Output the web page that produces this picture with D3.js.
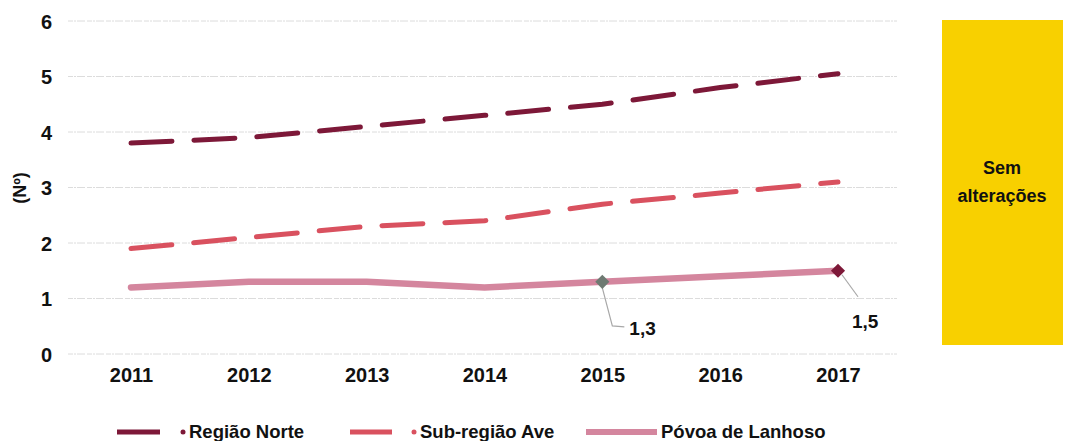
<!DOCTYPE html>
<html>
<head>
<meta charset="utf-8">
<script src="https://cdn.jsdelivr.net/npm/d3@7"></script>
<style>
  html, body { margin: 0; padding: 0; background: #fff; }
  svg { display: block; font-family: "Liberation Sans", Arial, sans-serif; }
</style>
</head>
<body>
<svg id="chart" width="1068" height="441"></svg>
<script>
// Anos e séries (número médio)
const years = [2011, 2012, 2013, 2014, 2015, 2016, 2017];
const regiaoNorte = [3.8, 3.9, 4.1, 4.3, 4.5, 4.8, 5.05];
const subRegiaoAve = [1.9, 2.1, 2.3, 2.4, 2.7, 2.9, 3.1];
const povoaLanhoso = [1.2, 1.3, 1.3, 1.2, 1.3, 1.4, 1.5];
const yTicks = [0, 1, 2, 3, 4, 5, 6];
const seriesNames = ["Região Norte", "Sub-região Ave", "Póvoa de Lanhoso"];
const labelled = [{ year: 2015, text: "1,3" }, { year: 2017, text: "1,5" }];
const boxLines = ["Sem", "alterações"];

const svg = d3.select("#chart");

const x = d3.scalePoint().domain(years).range([131, 838]);
const y = d3.scaleLinear().domain([0, 6]).range([354, 21]);

// Grelha horizontal
svg.append("g")
  .selectAll("line")
  .data(yTicks)
  .join("line")
  .attr("x1", 68).attr("x2", 897)
  .attr("y1", d => y(d)).attr("y2", d => y(d))
  .attr("stroke", "#dcdcdc")
  .attr("stroke-width", 1)
  .attr("stroke-dasharray", "5 1 2 1 8 2");

// Eixo Y
const yAxis = d3.axisLeft(y).tickValues(yTicks).tickSize(0).tickPadding(0).tickFormat(d3.format("d"));
const gy = svg.append("g").attr("transform", "translate(52,0)").call(yAxis);
gy.select(".domain").remove();
gy.selectAll("text")
  .attr("font-size", 20).attr("font-weight", "bold").attr("fill", "#111")
  .attr("dy", "0.35em");

// Eixo X
const xAxis = d3.axisBottom(x).tickSize(0).tickPadding(0).tickFormat(d3.format("d"));
const gx = svg.append("g").attr("transform", "translate(0,368)").call(xAxis);
gx.select(".domain").remove();
gx.selectAll("text")
  .attr("font-size", 20).attr("font-weight", "bold").attr("fill", "#111")
  .attr("dy", "0.7em");

// Título do eixo Y
svg.append("text")
  .attr("transform", "translate(26,188) rotate(-90)")
  .attr("text-anchor", "middle")
  .attr("font-size", 18).attr("font-weight", "bold").attr("fill", "#111")
  .text("(Nº)");

const line = d3.line().x((d, i) => x(years[i])).y(d => y(d));

// Região Norte
svg.append("path")
  .datum(regiaoNorte)
  .attr("d", line)
  .attr("fill", "none")
  .attr("stroke", "#7d1838")
  .attr("stroke-width", 5)
  .attr("stroke-linecap", "round")
  .attr("stroke-dasharray", "41 22");

// Sub-região Ave
svg.append("path")
  .datum(subRegiaoAve)
  .attr("d", line)
  .attr("fill", "none")
  .attr("stroke", "#d9515f")
  .attr("stroke-width", 5)
  .attr("stroke-linecap", "round")
  .attr("stroke-dasharray", "41 22");

// Póvoa de Lanhoso
svg.append("path")
  .datum(povoaLanhoso)
  .attr("d", line)
  .attr("fill", "none")
  .attr("stroke", "#d4869e")
  .attr("stroke-width", 6.5)
  .attr("stroke-linecap", "round")
  .attr("stroke-linejoin", "round");

// Marcadores e rótulos de valor
const markerColor = { 2015: "#6e7a72", 2017: "#7d1838" };
const leaderPaths = {
  2015: [[0, 6], [10, 44], [22, 45]],
  2017: [[4, 4], [20, 26]]
};
const labelOffsets = { 2015: [27, 53], 2017: [14, 57] };

labelled.forEach(l => {
  const i = years.indexOf(l.year);
  const cx = x(l.year), cy = y(povoaLanhoso[i]);
  svg.append("path")
    .attr("d", d3.line()(leaderPaths[l.year].map(p => [cx + p[0], cy + p[1]])))
    .attr("fill", "none").attr("stroke", "#a8a8a8").attr("stroke-width", 1.2);
  svg.append("path")
    .attr("transform", `translate(${cx},${cy}) rotate(45)`)
    .attr("d", d3.symbol().type(d3.symbolSquare).size(100)())
    .attr("fill", markerColor[l.year]);
  svg.append("text")
    .attr("x", cx + labelOffsets[l.year][0])
    .attr("y", cy + labelOffsets[l.year][1])
    .attr("font-size", 19).attr("font-weight", "bold").attr("fill", "#111")
    .text(l.text);
});

// Caixa "Sem alterações"
svg.append("rect")
  .attr("x", 942).attr("y", 20).attr("width", 121).attr("height", 325)
  .attr("fill", "#f8d000");
svg.append("text")
  .attr("x", 1002).attr("y", 174)
  .attr("text-anchor", "middle")
  .attr("font-size", 18).attr("font-weight", "bold").attr("fill", "#111")
  .selectAll("tspan")
  .data(boxLines)
  .join("tspan")
  .attr("x", 1002)
  .attr("dy", (d, i) => i === 0 ? 0 : 28)
  .text(d => d);

// Legenda
const legend = [
  { name: seriesNames[0], color: "#7d1838", x1: 117, x2: 160, dot: 183, tx: 189, w: 5 },
  { name: seriesNames[1], color: "#d9515f", x1: 350, x2: 392, dot: 414, tx: 420, w: 5 },
  { name: seriesNames[2], color: "#d4869e", x1: 586, x2: 657, dot: null, tx: 661, w: 6 }
];
const lg = svg.append("g");
legend.forEach(d => {
  lg.append("line")
    .attr("x1", d.x1).attr("x2", d.x2).attr("y1", 432).attr("y2", 432)
    .attr("stroke", d.color).attr("stroke-width", d.w);
  if (d.dot !== null) {
    lg.append("circle").attr("cx", d.dot).attr("cy", 432).attr("r", 2.5).attr("fill", d.color);
  }
  lg.append("text")
    .attr("x", d.tx).attr("y", 438)
    .attr("font-size", 18.5).attr("font-weight", "bold").attr("fill", "#111")
    .text(d.name);
});
</script>
</body>
</html>
